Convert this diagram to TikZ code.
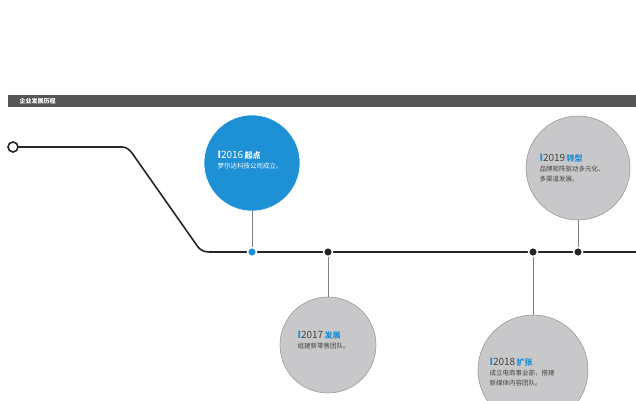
\documentclass[tikz,border=0pt]{standalone}
\usepackage{fontspec}
\newfontfamily\cjk{Noto Sans CJK SC}
\usetikzlibrary{positioning}
\definecolor{barGray}{HTML}{555555}
\definecolor{evBlue}{HTML}{1E90D6}
\definecolor{evGray}{HTML}{C8C8CA}
\definecolor{txtGray}{HTML}{444444}
\tikzset{
  event/.style={circle, draw=gray!80, line width=0.6pt, fill=evGray, minimum size=#1, inner sep=0pt},
  dot/.style={circle, fill=black!85, draw=white, line width=1.5pt, minimum size=9pt, inner sep=0pt},
  stem/.style={gray, line width=0.8pt},
  evtext/.style={align=left, font=\cjk\fontsize{6.5}{10}\selectfont, text=txtGray}
}
\begin{document}
\begin{tikzpicture}[x=1pt,y=-1pt]
\useasboundingbox (0,0) rectangle (636,400);
% header
\fill[barGray] (8,95) rectangle (636,107);
\node[anchor=west, text=white, font=\cjk\fontsize{6}{6}\selectfont\bfseries] (head) at (16,101) {企业发展历程};
% main line
\coordinate (start) at (13,147);
\draw[line width=1.6pt, black!85] (start) -- (122,147) to[out=0,in=130] (132,153) -- (198,247) to[out=-50,in=180] (210,252) -- (636,252);
\draw[line width=1.6pt, black!85, fill=white] (start) circle (5);
% circles
\node[event=96pt, fill=evBlue, draw=white] (c16) at (252,163) {};
\node[event=96pt] (c17) at (328,345) {};
\node[event=110pt] (c18) at (533,370) {};
\node[event=104pt] (c19) at (578,168) {};
% dots on the line
\node[dot, fill=evBlue] (d16) at (252,252) {};
\node[dot] (d17) at (328,252) {};
\node[dot] (d18) at (533,252) {};
\node[dot] (d19) at (578,252) {};
\draw[stem] (c16) -- (d16);
\draw[stem] (c17) -- (d17);
\draw[stem] (c18) -- (d18);
\draw[stem] (c19) -- (d19);
% texts
\node[evtext, text=white, anchor=north west] (t16) at (214,148) {{\fontsize{10}{10}\selectfont\color{white}\textbf{I}}{\fontsize{10}{10}\selectfont 2016}\ \textbf{\fontsize{8}{8}\selectfont 起点}\\梦尔达科技公司成立。};
\node[evtext, anchor=north west] (t17) at (294,328) {{\fontsize{10}{10}\selectfont\color{evBlue}\textbf{I}}{\fontsize{10}{10}\selectfont 2017}\ {\fontsize{8}{8}\selectfont\color{evBlue}\textbf{发展}}\\组建新零售团队。};
\node[evtext, anchor=north west] (t18) at (486,355) {{\fontsize{10}{10}\selectfont\color{evBlue}\textbf{I}}{\fontsize{10}{10}\selectfont 2018}\ {\fontsize{8}{8}\selectfont\color{evBlue}\textbf{扩张}}\\成立电商事业部，搭建\\新媒体内容团队。};
\node[evtext, anchor=north west] (t19) at (536,151) {{\fontsize{10}{10}\selectfont\color{evBlue}\textbf{I}}{\fontsize{10}{10}\selectfont 2019}\ {\fontsize{8}{8}\selectfont\color{evBlue}\textbf{转型}}\\品牌矩阵驱动多元化、\\多渠道发展。};
\end{tikzpicture}
\end{document}
